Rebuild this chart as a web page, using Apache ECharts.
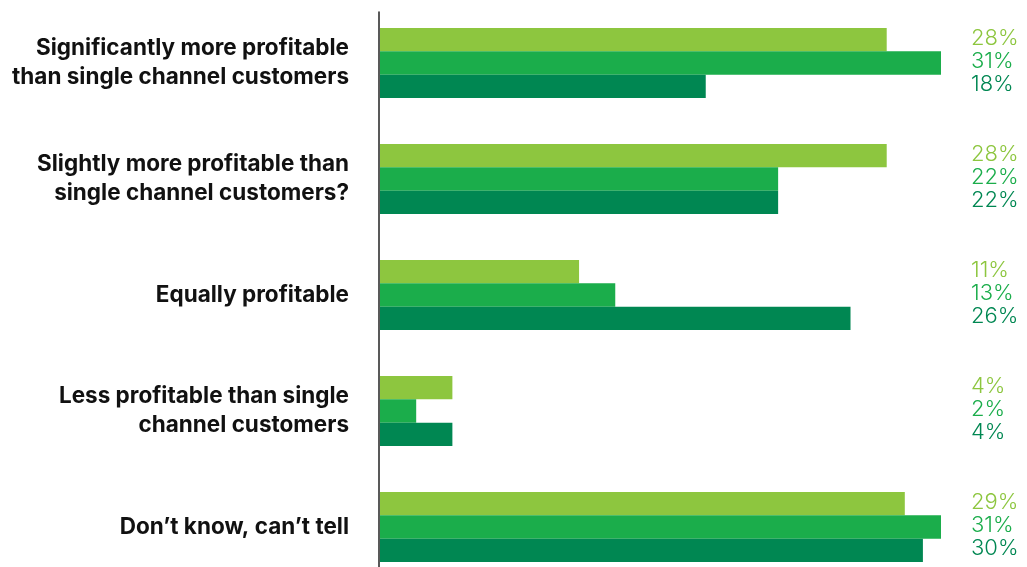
<!DOCTYPE html>
<html>
<head>
<meta charset="utf-8">
<script src="https://cdn.jsdelivr.net/npm/echarts@6/dist/echarts.min.js"></script>
<style>
  html, body { margin: 0; padding: 0; background: #fff; }
  #chart { width: 1027px; height: 567px; }
</style>
</head>
<body>
<div id="chart"></div>
<script>
// Survey answers (share of respondents, %)
const categories = [
  'Significantly more profitable\nthan single channel customers',
  'Slightly more profitable than\nsingle channel customers?',
  'Equally profitable',
  'Less profitable than single\nchannel customers',
  'Don\u2019t know, can\u2019t tell'
];
const seriesA = [28, 28, 11, 4, 29];
const seriesB = [31, 22, 13, 2, 31];
const seriesC = [18, 22, 26, 4, 30];

const colors = ['#8DC63F', '#1BAD4B', '#008752'];
const values = [seriesA, seriesB, seriesC];

const chart = echarts.init(document.getElementById('chart'), null, { renderer: 'canvas' });

// value labels stacked per category on the right-hand axis
const rightLabels = categories.map((c, i) =>
  `{a|${seriesA[i]}%}\n{b|${seriesB[i]}%}\n{c|${seriesC[i]}%}`);

const labelFont = { fontFamily: 'Inter, Roboto, sans-serif', fontWeight: 300, fontSize: 22, lineHeight: 23 };

chart.setOption({
  animation: false,
  backgroundColor: '#ffffff',
  grid: [
    { left: 380, top: 5, width: 561, height: 580, outerBoundsMode: 'none' },
    { left: 379, top: 12, width: 1, bottom: 0, outerBoundsMode: 'none' }
  ],
  xAxis: [
    { type: 'value', gridIndex: 0, min: 0, max: 31, show: false },
    { type: 'value', gridIndex: 1, show: false }
  ],
  yAxis: [
    {
      type: 'category', gridIndex: 0, inverse: true, data: categories,
      axisLine: { show: false }, axisTick: { show: false },
      axisLabel: {
        margin: 31, align: 'right', color: '#111',
        fontFamily: 'Inter, "Liberation Sans", Arial, sans-serif', fontWeight: 'bold',
        fontSize: 22.5, lineHeight: 29, padding: [4, 0, 0, 0]
      }
    },
    {
      type: 'category', gridIndex: 0, inverse: true, position: 'right', data: rightLabels,
      axisLine: { show: false }, axisTick: { show: false },
      axisLabel: {
        margin: 30, align: 'left', padding: [0, 0, 4, 0],
        rich: {
          a: Object.assign({ color: colors[0] }, labelFont),
          b: Object.assign({ color: colors[1] }, labelFont),
          c: Object.assign({ color: colors[2] }, labelFont)
        }
      }
    },
    {
      type: 'value', gridIndex: 1, min: 0, max: 1,
      axisLine: { show: true, lineStyle: { color: '#222', width: 1.5 } },
      axisTick: { show: false }, axisLabel: { show: false }, splitLine: { show: false }
    }
  ],
  series: values.map((v, k) => ({
    type: 'bar',
    xAxisIndex: 0, yAxisIndex: 0,
    data: v,
    itemStyle: { color: colors[k] },
    barGap: '0%',
    barCategoryGap: '39.7%',
    silent: true
  }))
});
</script>
</body>
</html>
